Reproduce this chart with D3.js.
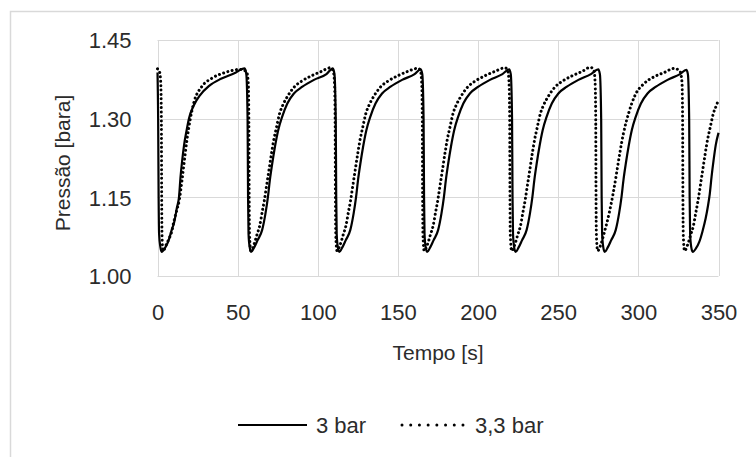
<!DOCTYPE html>
<html><head><meta charset="utf-8">
<script src="https://cdn.jsdelivr.net/npm/d3@7"></script>
<style>
html,body{margin:0;padding:0;background:#fff;}
svg{display:block;font-family:"Liberation Sans",Arial,sans-serif;}
</style></head>
<body><svg id="chart" width="756" height="457"></svg>
<script>
// ---- data ----
const xTicks = [0, 50, 100, 150, 200, 250, 300, 350];
const yTicks = [1.00, 1.15, 1.30, 1.45];
const seriesNames = ["3 bar", "3,3 bar"];

// "3 bar" (solid): time [s], pressure [bara]
const timeA = [0,0.4,0.7,1.0,1.8,2.6,
 4.6,6.6,8.6,10.6,12.1,13.4,14.4,15.4,16.6,18.0,19.6,22.6,26.6,32.0,39.6,47.6,54.4,55.4,56.2,56.5,56.8,57.5,58.4,
 60.4,62.4,65.3,67.4,68.9,70.1,71.6,73.3,75.3,77.8,81.0,85.1,90.4,97.6,105.4,109.4,110.4,111.2,111.5,111.8,112.5,113.4,
 115.4,117.4,120.3,122.4,123.9,125.1,126.6,128.3,130.3,132.8,136.0,140.1,145.4,152.6,160.4,164.2,165.2,166.0,166.3,166.6,167.3,168.2,
 170.2,172.2,175.1,177.2,178.7,179.9,181.4,183.1,185.1,187.6,190.8,194.9,200.2,207.4,215.2,219.4,220.4,221.2,221.5,221.8,222.5,223.4,
 225.4,227.4,230.3,232.4,233.9,235.1,236.6,238.3,240.3,242.8,246.0,250.1,255.4,262.6,270.4,275.0,276.0,276.8,277.1,277.4,278.1,279.0,
 281.0,283.0,285.9,288.0,289.5,290.7,292.2,293.9,295.9,298.4,301.6,305.7,311.0,318.2,326.0,329.9,330.9,331.7,332.0,332.3,333.0,333.9,
 336.0,338.0,340.0,342.0,343.5,344.5,345.7,346.9,348.3,350];
const pressA = [1.388,1.30,1.15,1.08,1.055,1.046,
 1.053,1.065,1.085,1.105,1.13,1.15,1.19,1.22,1.25,1.275,1.30,1.325,1.345,1.362,1.376,1.386,1.396,1.385,1.30,1.15,1.08,1.055,1.046,
 1.055,1.068,1.088,1.12,1.151,1.183,1.215,1.247,1.278,1.304,1.329,1.348,1.361,1.374,1.385,1.396,1.385,1.30,1.15,1.08,1.055,1.046,
 1.055,1.068,1.088,1.12,1.151,1.183,1.215,1.247,1.278,1.304,1.329,1.348,1.361,1.374,1.385,1.394,1.385,1.30,1.15,1.08,1.055,1.046,
 1.055,1.068,1.088,1.12,1.151,1.183,1.215,1.247,1.278,1.304,1.329,1.348,1.361,1.374,1.385,1.394,1.385,1.30,1.15,1.08,1.055,1.046,
 1.055,1.068,1.088,1.12,1.151,1.183,1.215,1.247,1.278,1.304,1.329,1.348,1.361,1.374,1.385,1.394,1.385,1.30,1.15,1.08,1.055,1.046,
 1.055,1.068,1.088,1.12,1.151,1.183,1.215,1.247,1.278,1.304,1.329,1.348,1.361,1.374,1.385,1.393,1.385,1.30,1.15,1.08,1.055,1.046,
 1.053,1.065,1.085,1.11,1.135,1.155,1.19,1.22,1.25,1.273];

// "3,3 bar" (dotted): time [s], pressure [bara]
const timeB = [0,1.2,2.0,2.4,2.6,2.8,3.4,
 5.5,7.0,8.9,10.2,12.0,13.6,15.3,16.8,18.4,20.3,22.8,27.6,33.9,42.2,51.6,55.5,56.6,57.0,57.2,57.4,58.2,
 60.2,62.2,63.7,65.2,66.7,68.2,69.7,71.2,72.7,74.2,76.2,78.2,81.2,85.2,90.2,96.2,102.2,107.6,109.5,110.4,110.8,111.0,111.2,112.0,
 114.0,116.0,117.5,119.0,120.5,122.0,123.5,125.0,126.5,128.0,130.0,132.0,135.0,139.0,144.0,150.0,156.0,162.6,164.0,164.8,165.2,165.4,165.6,166.4,
 168.4,170.4,171.9,173.4,174.9,176.4,177.9,179.4,180.9,182.4,184.4,186.4,189.4,193.4,198.4,204.4,210.4,216.8,218.5,219.3,219.7,219.9,220.1,220.9,
 222.9,224.9,226.4,227.9,229.4,230.9,232.4,233.9,235.4,236.9,238.9,240.9,243.9,247.9,252.9,258.9,264.9,270.0,272.2,273.0,273.4,273.6,273.8,274.6,
 276.6,278.6,281.8,284.3,286.4,288.4,290.7,293.9,298.0,303.6,309.9,316.1,322.4,326.0,327.2,327.6,327.8,328.0,328.8,
 330.8,332.8,334.3,335.8,337.3,338.8,340.3,341.8,343.3,344.8,346.8,348.8,350];
const pressB = [1.395,1.39,1.37,1.30,1.15,1.08,1.048,
 1.06,1.07,1.085,1.104,1.125,1.145,1.183,1.221,1.26,1.297,1.332,1.361,1.377,1.388,1.394,1.39,1.37,1.30,1.15,1.08,1.048,
 1.06,1.08,1.095,1.12,1.145,1.175,1.205,1.235,1.262,1.283,1.31,1.326,1.343,1.36,1.372,1.382,1.39,1.397,1.392,1.37,1.30,1.15,1.08,1.048,
 1.06,1.08,1.095,1.12,1.145,1.175,1.205,1.235,1.262,1.283,1.31,1.326,1.343,1.36,1.372,1.382,1.39,1.396,1.392,1.37,1.30,1.15,1.08,1.048,
 1.06,1.08,1.095,1.12,1.145,1.175,1.205,1.235,1.262,1.283,1.31,1.326,1.343,1.36,1.372,1.382,1.39,1.397,1.392,1.37,1.30,1.15,1.08,1.048,
 1.06,1.08,1.095,1.12,1.145,1.175,1.205,1.235,1.262,1.283,1.31,1.326,1.343,1.36,1.372,1.382,1.39,1.398,1.393,1.37,1.30,1.15,1.08,1.048,
 1.06,1.081,1.12,1.158,1.196,1.234,1.272,1.31,1.345,1.367,1.38,1.388,1.396,1.39,1.37,1.30,1.15,1.08,1.048,
 1.06,1.08,1.095,1.12,1.145,1.175,1.205,1.235,1.262,1.283,1.31,1.326,1.336];

// ---- chart ----
const svg = d3.select("#chart");
const grid = "#d9d9d9";
const plot = {left: 157.5, right: 718.5, top: 40, bottom: 276};

// chart area border (extends past the window on right/bottom)
svg.append("rect").attr("x", 10.5).attr("y", 11.5).attr("width", 900).attr("height", 600)
  .attr("fill", "#fff").attr("stroke", grid).attr("stroke-width", 1.5);

const x = d3.scaleLinear().domain([0, 350]).range([plot.left, plot.right]);
const y = d3.scaleLinear().domain([1.00, 1.45]).range([plot.bottom, plot.top]);

// gridlines
svg.append("g").selectAll("line").data(yTicks).join("line")
  .attr("x1", plot.left).attr("x2", plot.right)
  .attr("y1", d => Math.round(y(d)) + 0.5).attr("y2", d => Math.round(y(d)) + 0.5)
  .attr("stroke", grid).attr("stroke-width", 1);
svg.append("g").selectAll("line").data(xTicks).join("line")
  .attr("x1", d => Math.round(x(d)) + 0.5).attr("x2", d => Math.round(x(d)) + 0.5)
  .attr("y1", plot.top).attr("y2", plot.bottom)
  .attr("stroke", grid).attr("stroke-width", 1);

// axes
const xAxis = svg.append("g").attr("transform", `translate(0,${plot.bottom})`)
  .call(d3.axisBottom(x).tickValues(xTicks).tickSize(0).tickFormat(d3.format("d")));
xAxis.select(".domain").remove();
xAxis.selectAll("text").attr("y", 43.5).attr("dy", 0)
  .style("font-size", "22px").style("font-family", "Liberation Sans, Arial, sans-serif").attr("fill", "#2b2b2b");

const yAxis = svg.append("g").attr("transform", `translate(${plot.left},0)`)
  .call(d3.axisLeft(y).tickValues(yTicks).tickSize(0).tickFormat(d3.format(".2f")));
yAxis.select(".domain").remove();
yAxis.selectAll("text").attr("x", -26).attr("dy", "0.36em")
  .style("font-size", "22px").style("font-family", "Liberation Sans, Arial, sans-serif").attr("fill", "#2b2b2b");

// axis titles
svg.append("text").attr("x", (plot.left + plot.right) / 2).attr("y", 360)
  .attr("text-anchor", "middle").attr("font-size", 21).attr("fill", "#2b2b2b").text("Tempo [s]");
svg.append("text").attr("transform", `translate(70,${(plot.top + plot.bottom) / 2 + 5}) rotate(-90)`)
  .attr("text-anchor", "middle").attr("font-size", 21).attr("fill", "#2b2b2b").text("Pressão [bara]");

// series
const dataA = timeA.map((t, i) => [t, pressA[i]]);
const dataB = timeB.map((t, i) => [t, pressB[i]]);
const line = d3.line().x(d => x(d[0])).y(d => y(d[1])).curve(d3.curveMonotoneX);

svg.append("path").datum(dataB).attr("d", line).attr("fill", "none")
  .attr("stroke", "#000").attr("stroke-width", 3).attr("stroke-linecap", "round")
  .attr("stroke-dasharray", "0.01 4.4");
svg.append("path").datum(dataA).attr("d", line).attr("fill", "none")
  .attr("stroke", "#000").attr("stroke-width", 2.2).attr("stroke-linejoin", "round");

// legend
const leg = svg.append("g");
leg.append("line").attr("x1", 238).attr("x2", 307).attr("y1", 425).attr("y2", 425)
  .attr("stroke", "#000").attr("stroke-width", 2.2);
leg.append("text").attr("x", 316).attr("y", 433).attr("font-size", 22).attr("fill", "#2b2b2b").text(seriesNames[0]);
leg.append("line").attr("x1", 402).attr("x2", 463).attr("y1", 425).attr("y2", 425)
  .attr("stroke", "#000").attr("stroke-width", 3).attr("stroke-linecap", "round")
  .attr("stroke-dasharray", "0.01 8.7");
leg.append("text").attr("x", 475).attr("y", 433).attr("font-size", 22).attr("fill", "#2b2b2b").text(seriesNames[1]);
</script>
</body></html>
